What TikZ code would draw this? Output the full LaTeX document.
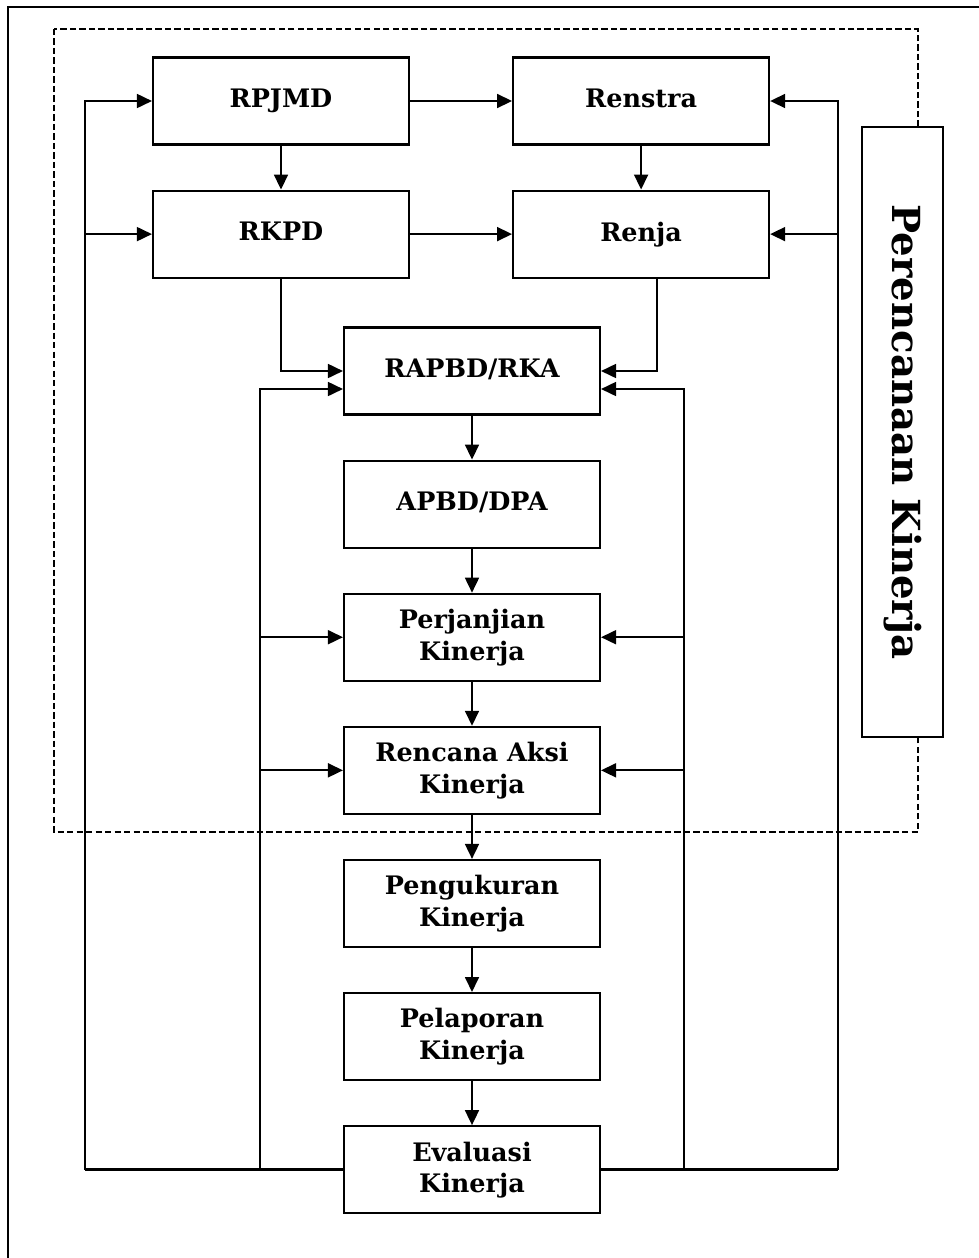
\documentclass[tikz,border=0pt]{standalone}
\usepackage{fontspec}
\setmainfont{DejaVu Serif}
\usetikzlibrary{arrows.meta,positioning}

\begin{document}
\begin{tikzpicture}[
  node distance=0.88cm,
  stage/.style={draw=black, line width=1.2pt, fill=white, align=center,
    minimum width=5.12cm, minimum height=1.74cm, inner sep=2pt, text depth=0.28em,
    font=\fontsize{14.5}{18}\selectfont\bfseries},
  banner/.style={draw=black, line width=1.2pt, fill=white, rotate=-90,
    minimum width=12.2cm, minimum height=1.62cm,
    font=\fontsize{22}{26}\selectfont\bfseries},
  arrow/.style={-{Triangle[length=3mm,width=2.8mm]}, line width=1pt},
  busline/.style={line width=1.8pt},
  zone/.style={dashed, dash pattern=on 3.6pt off 1.8pt, line width=1.1pt}
]
\useasboundingbox (0,0) rectangle (19.56,-25.16);
\draw[line width=1pt] (19.8,-0.14) -- (0.16,-0.14) -- (0.16,-25.5);
\draw[zone] (1.08,-0.58) rectangle (18.36,-16.64);
\node[banner] (title) at (18.05,-8.64) {Perencanaan Kinerja};

\node[stage] (rpjmd) at (5.62,-2.02) {RPJMD};
\node[stage, right=2.04cm of rpjmd] (renstra) {Renstra};
\node[stage, below=of rpjmd] (rkpd) {RKPD};
\node[stage, below=of renstra] (renja) {Renja};
\node[stage] (rapbd) at (9.44,-7.42) {RAPBD/RKA};
\node[stage, below=of rapbd] (apbd) {APBD/DPA};
\node[stage, below=of apbd] (pk) {Perjanjian\\Kinerja};
\node[stage, below=of pk] (rak) {Rencana Aksi\\Kinerja};
\node[stage, below=of rak] (ukur) {Pengukuran\\Kinerja};
\node[stage, below=of ukur] (lapor) {Pelaporan\\Kinerja};
\node[stage, below=of lapor] (eval) {Evaluasi\\Kinerja};

\coordinate (outerL) at (1.70,0);
\coordinate (innerL) at (5.20,0);
\coordinate (innerR) at (13.68,0);
\coordinate (outerR) at (16.76,0);

\draw[arrow] (rpjmd) -- (renstra);
\draw[arrow] (rkpd) -- (renja);
\draw[arrow] (rpjmd) -- (rkpd);
\draw[arrow] (renstra) -- (renja);
\draw[arrow] (rkpd.south) |- (rapbd.west);
\draw[arrow] ([xshift=0.32cm]renja.south) |- (rapbd.east);
\draw[arrow] (rapbd) -- (apbd);
\draw[arrow] (apbd) -- (pk);
\draw[arrow] (pk) -- (rak);
\draw[arrow] (rak) -- (ukur);
\draw[arrow] (ukur) -- (lapor);
\draw[arrow] (lapor) -- (eval);

\draw[busline] (eval.west) -- (eval.west -| outerL);
\draw[busline] (eval.east) -- (eval.east -| outerR);
\draw[arrow] (eval.west -| outerL) |- (rpjmd.west);
\draw[arrow] (rkpd.west -| outerL) -- (rkpd.west);
\draw[arrow] (eval.east -| outerR) |- (renstra.east);
\draw[arrow] (renja.east -| outerR) -- (renja.east);
\draw[arrow] (eval.west -| innerL) |- ([yshift=-0.36cm]rapbd.west);
\draw[arrow] (pk.west -| innerL) -- (pk.west);
\draw[arrow] (rak.west -| innerL) -- (rak.west);
\draw[arrow] (eval.east -| innerR) |- ([yshift=-0.36cm]rapbd.east);
\draw[arrow] (pk.east -| innerR) -- (pk.east);
\draw[arrow] (rak.east -| innerR) -- (rak.east);
\end{tikzpicture}
\end{document}
